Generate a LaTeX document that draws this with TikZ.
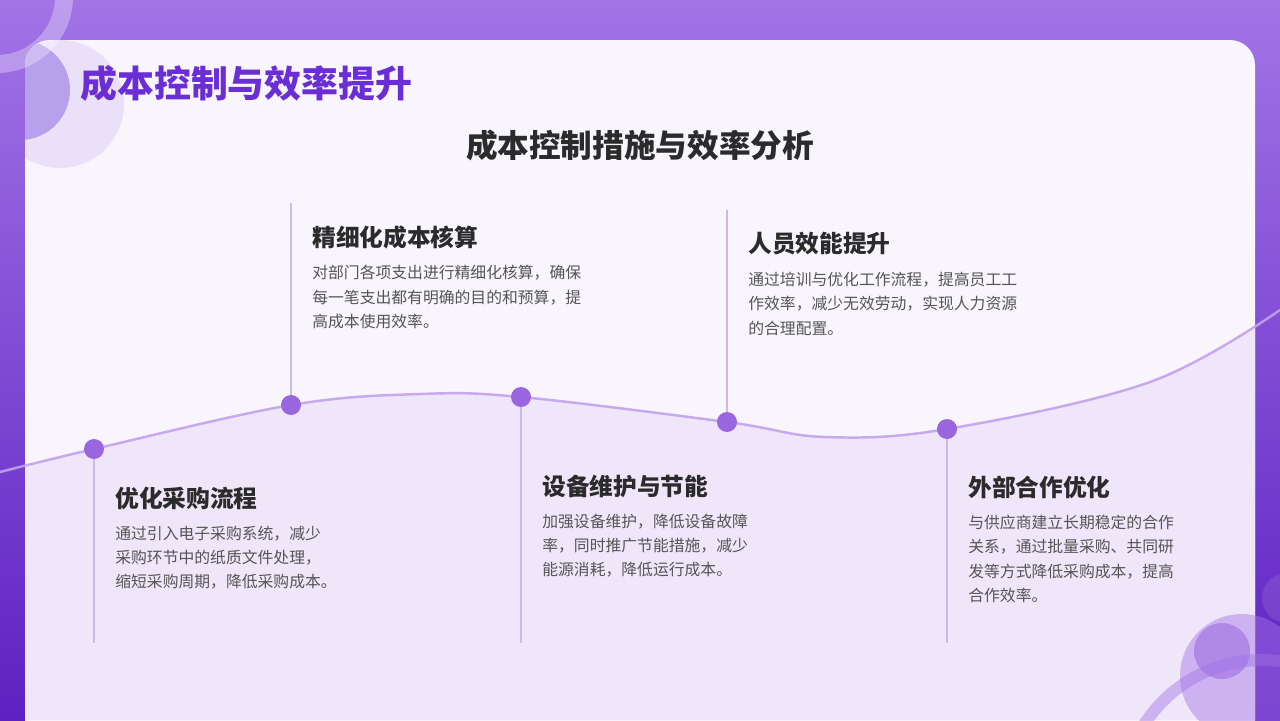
\documentclass[tikz,border=0pt]{standalone}
\usepackage{fontspec}
\setmainfont{Noto Sans CJK SC}
\usepackage{tikz}
\usetikzlibrary{positioning}

\definecolor{bgtop}{HTML}{A274E6}
\definecolor{bgbot}{HTML}{5E21C2}
\definecolor{cardbg}{HTML}{F8F5FC}
\definecolor{wavebg}{HTML}{EFE6FA}
\definecolor{waveline}{HTML}{C2A3EC}
\definecolor{dotfill}{HTML}{9A66DF}
\definecolor{stemline}{HTML}{CDB8EC}
\definecolor{titlepurple}{HTML}{6B2ED6}
\definecolor{headtext}{HTML}{2B2B2B}
\definecolor{bodytext}{HTML}{555555}
\definecolor{blobmid}{HTML}{B8A0EC}
\definecolor{bloblight}{HTML}{E9DFF8}

\tikzset{
  milestone/.style={circle,fill=dotfill,inner sep=0pt,minimum size=0.4cm},
  stem/.style={stemline,line width=0.9pt},
  heading/.style={anchor=west,inner sep=0pt,text=headtext,font=\fontsize{13.5}{16}\selectfont\bfseries},
  desc/.style={inner sep=0pt,align=left,text=bodytext,font=\fontsize{9}{13.8}\selectfont},
}

\begin{document}
\begin{tikzpicture}[x=0.02cm,y=-0.02cm]
        \clip (0,0) rectangle (1280,720);
        % background and card
        \shade[top color=bgtop,bottom color=bgbot] (0,0) rectangle (1280,720);
        \fill[cardbg,rounded corners=0.5cm] (25,40) rectangle (1255,780);
        % wave points
        \coordinate (p1) at (94,449);
        \coordinate (p2) at (291,405);
        \coordinate (p3) at (521,397);
        \coordinate (p4) at (727,422);
        \coordinate (p5) at (947,429);
        \begin{scope}
            \clip[rounded corners=0.5cm] (25,40) rectangle (1255,780);
            \fill[wavebg] plot[smooth,tension=0.6] coordinates {(0,472) (p1) (p2) (420,394) (p3) (p4) (825,437) (p5) (1150,382) (1280,310)} -- (1280,720) -- (0,720) -- cycle;
            % decorative circles on the card
            \fill[bloblight,opacity=0.9] (60,104) circle (64);
            \fill[blobmid] (20,90) circle (50);
        \end{scope}
        \draw[white,opacity=0.3,line width=0.36cm] (-3,-3) circle (67);
        \fill[bgtop,opacity=0.45] (1242,676) circle (62);
        \fill[dotfill,opacity=0.55] (1222,651) circle (28);
        \draw[bgtop,opacity=0.45,line width=0.24cm] (1262,800) circle (140);
        \fill[white,opacity=0.10] (1287,598) circle (25);
        % wave line
        \draw[waveline,line width=1.4pt,opacity=0.9] plot[smooth,tension=0.6] coordinates {(0,472) (p1) (p2) (420,394) (p3) (p4) (825,437) (p5) (1150,382) (1280,310)};
        % titles
        \node[anchor=west,inner sep=0pt,text=titlepurple,font=\fontsize{21}{25}\selectfont\bfseries] (title) at (80,83) {成本控制与效率提升};
        \node[inner sep=0pt,text=headtext,font=\fontsize{18}{22}\selectfont\bfseries] (subtitle) at (640,145) {成本控制措施与效率分析};
        % stems and milestones
        \coordinate (e1) at (94,643);
        \coordinate (e2) at (291,203);
        \coordinate (e3) at (521,643);
        \coordinate (e4) at (727,210);
        \coordinate (e5) at (947,643);
        \foreach \i in {1,...,5}{\draw[stem] (p\i) -- (e\i); \node[milestone] (d\i) at (p\i) {};}
        % text blocks
        \node[heading] (h1) at (115,498) {优化采购流程};
        \node[desc,below=0.32cm of h1.south west,anchor=north west] (b1) {通过引入电子采购系统，减少\\采购环节中的纸质文件处理，\\缩短采购周期，降低采购成本。};
        \node[heading] (h2) at (312,237) {精细化成本核算};
        \node[desc,below=0.32cm of h2.south west,anchor=north west] (b2) {对部门各项支出进行精细化核算，确保\\每一笔支出都有明确的目的和预算，提\\高成本使用效率。};
        \node[heading] (h3) at (542,486) {设备维护与节能};
        \node[desc,below=0.32cm of h3.south west,anchor=north west] (b3) {加强设备维护，降低设备故障\\率，同时推广节能措施，减少\\能源消耗，降低运行成本。};
        \node[heading] (h4) at (748,244) {人员效能提升};
        \node[desc,below=0.32cm of h4.south west,anchor=north west] (b4) {通过培训与优化工作流程，提高员工工\\作效率，减少无效劳动，实现人力资源\\的合理配置。};
        \node[heading] (h5) at (968,487) {外部合作优化};
        \node[desc,below=0.32cm of h5.south west,anchor=north west] (b5) {与供应商建立长期稳定的合作\\关系，通过批量采购、共同研\\发等方式降低采购成本，提高\\合作效率。};
    \end{tikzpicture}
\end{document}
